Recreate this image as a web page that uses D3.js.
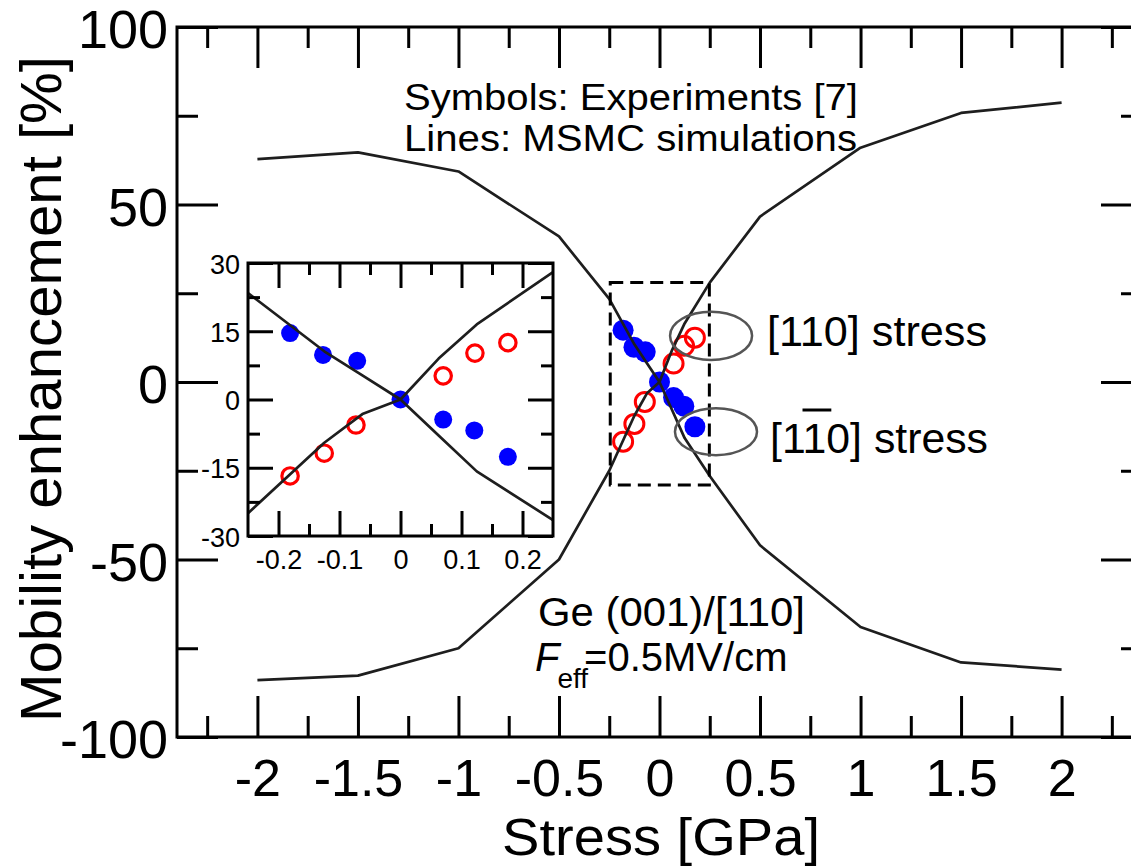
<!DOCTYPE html>
<html>
<head>
<meta charset="utf-8">
<script src="https://cdn.jsdelivr.net/npm/d3@7"></script>
<style>
  body { margin: 0; background: #fff; }
  svg { display: block; }
  text { font-family: "Liberation Sans", Arial, Helvetica, sans-serif; fill: #000; }
</style>
</head>
<body>
<svg id="chart" width="1131" height="866"></svg>
<script>
// ---- MSMC simulation curves (stress in GPa, mobility enhancement in %) ----
const simStress = [-2, -1.5, -1, -0.5, -0.25, -0.125, -0.0625, 0, 0.0625, 0.125, 0.25, 0.5, 1, 1.5, 2];
const sim110    = [-84, -82.7, -75, -50, -25, -9.5, -3.2, 0, 9, 16.5, 28, 46.6, 66, 75.8, 78.7];
const sim1m10   = [62.8, 64.7, 59.3, 41, 23.4, 10.6, 5.3, 0, -7.9, -15.8, -26.5, -46, -69, -79, -81];

// ---- Experimental points ----
const exp110Stress  = [-0.181, -0.125, -0.073, 0.070, 0.122, 0.176];
const exp110Value   = [-16.8, -11.8, -5.6, 5.2, 10.2, 12.5];
const exp1m10Stress = [-0.181, -0.127, -0.071, 0, 0.070, 0.121, 0.176];
const exp1m10Value  = [14.6, 9.8, 8.5, 0, -4.4, -6.8, -12.6];

// ---- Main axis ticks ----
const xMajor = [-2, -1.5, -1, -0.5, 0, 0.5, 1, 1.5, 2];
const xMajorLabels = ["-2", "-1.5", "-1", "-0.5", "0", "0.5", "1", "1.5", "2"];
const xMinor = [-2.25, -1.75, -1.25, -0.75, -0.25, 0.25, 0.75, 1.25, 1.75, 2.25];
const yMajor = [-100, -50, 0, 50, 100];
const yMajorLabels = ["-100", "-50", "0", "50", "100"];
const yMinor = [-75, -25, 25, 75];

// ---- Inset axis ticks ----
const ixMajor = [-0.2, -0.1, 0, 0.1, 0.2];
const ixMajorLabels = ["-0.2", "-0.1", "0", "0.1", "0.2"];
const ixMinor = [-0.15, -0.05, 0.05, 0.15];
const iyMajor = [-30, -15, 0, 15, 30];
const iyMajorLabels = ["-30", "-15", "0", "15", "30"];
const iyMinor = [-22.5, -7.5, 7.5, 22.5];

// zoom window shown in the inset (dashed rectangle)
const zoomStress = [-0.245, 0.248];
const zoomValue  = [-29, 28];

const FONT = '"Liberation Sans", Arial, Helvetica, sans-serif';
const svg = d3.select("#chart");

const x = d3.scaleLinear().domain([-2.4, 2.4]).range([177, 1142]);
const y = d3.scaleLinear().domain([-100, 100]).range([737, 27]);

const simPoints = (vals) => simStress.map((s, i) => [s, vals[i]]);

function styleAxis(g, fontSize) {
  g.attr("font-family", FONT).attr("font-size", fontSize).attr("color", "#000");
  g.select(".domain").remove();
  g.selectAll(".tick line").attr("stroke", "#000").attr("stroke-width", 3);
}

function drawTicks(parent, xs, ys, cfg) {
  const [x0, x1] = xs.range();
  const [y0, y1] = ys.range(); // y0 bottom, y1 top
  // bottom
  parent.append("g").attr("transform", `translate(0,${y0})`)
    .call(d3.axisBottom(xs).tickValues(cfg.xMajor).tickSize(-cfg.major)
      .tickPadding(cfg.xPad).tickFormat((d, i) => cfg.xLabels[i]))
    .call(g => styleAxis(g, cfg.xFont || cfg.font));
  parent.append("g").attr("transform", `translate(0,${y0})`)
    .call(d3.axisBottom(xs).tickValues(cfg.xMinor).tickSize(-cfg.minor).tickFormat(""))
    .call(g => styleAxis(g, cfg.font));
  // top
  parent.append("g").attr("transform", `translate(0,${y1})`)
    .call(d3.axisTop(xs).tickValues(cfg.xMajor).tickSize(-cfg.major).tickFormat(""))
    .call(g => styleAxis(g, cfg.font));
  parent.append("g").attr("transform", `translate(0,${y1})`)
    .call(d3.axisTop(xs).tickValues(cfg.xMinor).tickSize(-cfg.minor).tickFormat(""))
    .call(g => styleAxis(g, cfg.font));
  // left
  parent.append("g").attr("transform", `translate(${x0},0)`)
    .call(d3.axisLeft(ys).tickValues(cfg.yMajor).tickSize(-cfg.major)
      .tickPadding(cfg.yPad).tickFormat((d, i) => cfg.yLabels[i]))
    .call(g => styleAxis(g, cfg.font))
    .call(g => g.selectAll("text").attr("dy", cfg.yDy));
  parent.append("g").attr("transform", `translate(${x0},0)`)
    .call(d3.axisLeft(ys).tickValues(cfg.yMinor).tickSize(-cfg.minor).tickFormat(""))
    .call(g => styleAxis(g, cfg.font));
  // right
  parent.append("g").attr("transform", `translate(${x1},0)`)
    .call(d3.axisRight(ys).tickValues(cfg.yMajor).tickSize(-cfg.major).tickFormat(""))
    .call(g => styleAxis(g, cfg.font));
  parent.append("g").attr("transform", `translate(${x1},0)`)
    .call(d3.axisRight(ys).tickValues(cfg.yMinor).tickSize(-cfg.minor).tickFormat(""))
    .call(g => styleAxis(g, cfg.font));
  // frame
  parent.append("rect")
    .attr("x", x0).attr("y", y1).attr("width", x1 - x0).attr("height", y0 - y1)
    .attr("fill", "none").attr("stroke", "#000").attr("stroke-width", 3);
}

// ================= main panel =================
const main = svg.append("g");

drawTicks(main, x, y, {
  xMajor, xMinor, xLabels: xMajorLabels,
  yMajor, yMinor, yLabels: yMajorLabels,
  major: 41, minor: 21, font: 54, xFont: 52, xPad: 22, yPad: 9, yDy: "0.38em"
});

// experimental symbols
main.append("g").selectAll("circle").data(exp1m10Stress).join("circle")
  .attr("cx", d => x(d)).attr("cy", (d, i) => y(exp1m10Value[i]))
  .attr("r", 10.5).attr("fill", "#0000ff");
main.append("g").selectAll("circle").data(exp110Stress).join("circle")
  .attr("cx", d => x(d)).attr("cy", (d, i) => y(exp110Value[i]))
  .attr("r", 9.5).attr("fill", "none").attr("stroke", "#ff0000").attr("stroke-width", 3);

// simulation lines
const mainLine = d3.line().x(d => x(d[0])).y(d => y(d[1]));
[sim110, sim1m10].forEach(vals => {
  main.append("path").datum(simPoints(vals)).attr("d", mainLine)
    .attr("fill", "none").attr("stroke", "#1e1e1e").attr("stroke-width", 2.7)
    .attr("stroke-linejoin", "round");
});

// dashed zoom window
main.append("rect")
  .attr("x", x(zoomStress[0])).attr("y", y(zoomValue[1]))
  .attr("width", x(zoomStress[1]) - x(zoomStress[0]))
  .attr("height", y(zoomValue[0]) - y(zoomValue[1]))
  .attr("fill", "none").attr("stroke", "#000").attr("stroke-width", 3)
  .attr("stroke-dasharray", "13,7");

// ellipses grouping the two data sets
const rings = [
  { cx: 0.2565, cy: 13.0, rx: 0.204, ry: 6.8 },
  { cx: 0.281, cy: -14.0, rx: 0.204, ry: 6.6 }
];
main.append("g").selectAll("ellipse").data(rings).join("ellipse")
  .attr("cx", d => x(d.cx)).attr("cy", d => y(d.cy))
  .attr("rx", d => x(d.cx + d.rx) - x(d.cx)).attr("ry", d => y(d.cy - d.ry) - y(d.cy))
  .attr("fill", "none").attr("stroke", "#555").attr("stroke-width", 2.5);

// annotation texts
function fitText(sel, width) {
  sel.attr("textLength", width).attr("lengthAdjust", "spacingAndGlyphs");
  return sel;
}
fitText(main.append("text").attr("x", 404).attr("y", 110).attr("font-size", 37)
  .text("Symbols: Experiments [7]"), 454);
fitText(main.append("text").attr("x", 404).attr("y", 151).attr("font-size", 37)
  .text("Lines: MSMC simulations"), 453);

fitText(main.append("text").attr("x", 767).attr("y", 346).attr("font-size", 42)
  .text("[110] stress"), 220);
const t2 = main.append("text").attr("x", 770).attr("y", 453).attr("font-size", 42)
  .text("[110] stress");
fitText(t2, 218);
{
  const node = t2.node();
  const bx0 = node.getStartPositionOfChar(2).x;
  const bx1 = node.getEndPositionOfChar(2).x;
  main.append("line")
    .attr("x1", bx0).attr("x2", bx1 + 5)
    .attr("y1", 410).attr("y2", 410)
    .attr("stroke", "#000").attr("stroke-width", 3);
}

fitText(main.append("text").attr("x", 538).attr("y", 626).attr("font-size", 40)
  .text("Ge (001)/[110]"), 267);
{
  const t = main.append("text").attr("x", 535).attr("y", 671).attr("font-size", 40);
  t.append("tspan").attr("font-style", "italic").text("F");
  t.append("tspan").attr("font-size", 28).attr("dx", -2).attr("dy", 17).text("eff");
  t.append("tspan").attr("dx", -4).attr("dy", -17).text("=0.5MV/cm");
}

// axis titles
main.append("text").attr("x", 661).attr("y", 855).attr("text-anchor", "middle")
  .attr("font-size", 51).attr("textLength", 318).attr("lengthAdjust", "spacingAndGlyphs")
  .text("Stress [GPa]");
main.append("text")
  .attr("transform", "translate(61,389) rotate(-90)")
  .attr("text-anchor", "middle").attr("font-size", 58)
  .attr("textLength", 666).attr("lengthAdjust", "spacingAndGlyphs")
  .text("Mobility enhancement [%]");

// ================= inset =================
const xi = d3.scaleLinear().domain([-0.25, 0.25]).range([248, 553]);
const yi = d3.scaleLinear().domain([-30, 30]).range([536, 263]);
const inset = svg.append("g");

inset.append("rect")
  .attr("x", 248).attr("y", 263).attr("width", 305).attr("height", 273)
  .attr("fill", "#fff");

svg.append("defs").append("clipPath").attr("id", "insetClip")
  .append("rect").attr("x", 248).attr("y", 263).attr("width", 305).attr("height", 273);

const insetData = inset.append("g").attr("clip-path", "url(#insetClip)");
insetData.append("g").selectAll("circle").data(exp1m10Stress).join("circle")
  .attr("cx", d => xi(d)).attr("cy", (d, i) => yi(exp1m10Value[i]))
  .attr("r", 9).attr("fill", "#0000ff");
insetData.append("g").selectAll("circle").data(exp110Stress).join("circle")
  .attr("cx", d => xi(d)).attr("cy", (d, i) => yi(exp110Value[i]))
  .attr("r", 8.2).attr("fill", "none").attr("stroke", "#ff0000").attr("stroke-width", 3.2);

const insetLine = d3.line().x(d => xi(d[0])).y(d => yi(d[1]));
[sim110, sim1m10].forEach(vals => {
  insetData.append("path").datum(simPoints(vals)).attr("d", insetLine)
    .attr("fill", "none").attr("stroke", "#1e1e1e").attr("stroke-width", 2.7)
    .attr("stroke-linejoin", "round");
});

drawTicks(inset, xi, yi, {
  xMajor: ixMajor, xMinor: ixMinor, xLabels: ixMajorLabels,
  yMajor: iyMajor, yMinor: iyMinor, yLabels: iyMajorLabels,
  major: 25, minor: 12, font: 27, xPad: 14, yPad: 8, yDy: "0.37em"
});
</script>
</body>
</html>
